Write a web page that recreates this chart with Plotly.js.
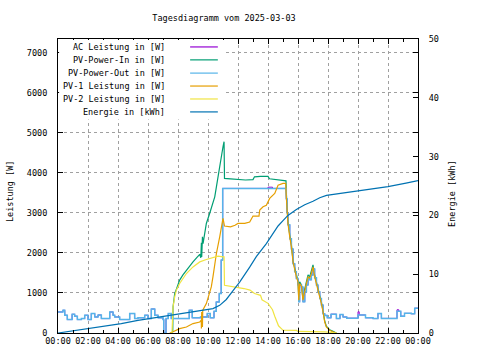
<!DOCTYPE html>
<html>
<head>
<meta charset="utf-8">
<script src="https://cdn.plot.ly/plotly-3.0.1.min.js"></script>
<style>html,body{margin:0;padding:0;background:#fff;}#chart{width:480px;height:360px;}</style>
</head>
<body>
<div id="chart"></div>
<script>
// ---- data (time in hours of the day) ----
const xTickVals = [0,2,4,6,8,10,12,14,16,18,20,22,24];
const xTickText = ["00:00","02:00","04:00","06:00","08:00","10:00","12:00","14:00","16:00","18:00","20:00","22:00","00:00"];
const seriesNames = ["AC Leistung in [W]","PV-Power-In in [W]","PV-Power-Out in [W]","PV-1 Leistung in [W]","PV-2 Leistung in [W]","Energie in [kWh]"];
const seriesColors = ["#9400d3","#009e73","#56b4e9","#e69f00","#f0e442","#0072b2"];

const outT = [0.00,0.33,0.45,0.62,0.94,1.11,1.29,1.56,1.78,2.00,2.22,2.45,2.67,2.89,3.45,3.67,3.78,4.11,4.78,5.11,5.33,5.78,6.00,6.22,6.45,6.67,7.00,7.05,7.20,7.35,7.55,8.75,8.95,9.50,9.95,10.15,10.40,10.55,10.75,10.88,10.98,
  15.20,15.22,15.27,15.33,15.45,15.56,15.67,15.78,15.89,16.00,16.05,16.11,16.23,16.33,16.45,16.56,16.67,16.78,16.89,17.00,17.11,17.23,17.33,17.45,17.56,17.67,
  17.78,17.95,18.20,18.56,18.80,19.00,19.25,20.00,20.50,21.00,21.33,21.56,22.60,22.85,23.10,23.55,23.78,24.00];
const outW = [525,568,443,335,468,420,335,360,443,335,485,400,450,360,525,443,400,335,485,360,380,443,360,600,443,380,335,0,360,485,360,568,380,400,485,380,540,775,985,1820,3610,
  3610,3350,3000,2700,2350,2100,1730,1530,1360,1200,780,1200,1150,780,1030,1200,1360,1330,1450,1600,1380,1200,1030,860,700,480,
  440,380,470,360,460,400,370,450,380,360,485,365,540,420,490,480,620,620];

const acT = [0.00,0.33,0.45,0.62,0.94,1.11,1.29,1.56,1.78,2.00,2.22,2.45,2.67,2.89,3.45,3.67,3.78,4.11,4.78,5.11,5.33,5.78,6.00,6.22,6.45,6.67,7.00,7.05,7.20,7.35,7.55,8.75,8.95,9.50,9.95,10.15,10.40,10.55,10.75,10.88,10.98,14.00,14.30,
  15.20,15.22,15.27,15.33,15.45,15.56,15.67,15.78,15.89,16.00,16.05,16.11,16.23,16.33,16.45,16.56,16.67,16.78,16.89,17.00,17.11,17.23,17.33,17.45,17.56,17.67,
  17.78,17.95,18.20,18.56,18.80,19.00,19.25,20.00,20.08,20.50,21.00,21.33,21.56,22.60,22.72,22.85,23.10,23.55,23.78,24.00];
const acW = [525,568,443,335,468,420,335,360,443,335,485,400,450,360,525,443,400,335,485,360,380,443,360,600,443,380,335,0,360,485,360,568,380,400,485,380,540,775,985,1820,3610,3640,3610,
  3610,3350,3000,2700,2350,2100,1730,1530,1360,1200,780,1200,1150,780,1030,1200,1360,1330,1450,1600,1380,1200,1030,860,700,480,
  440,380,470,360,460,400,370,530,450,380,360,485,365,580,540,420,490,480,620,620];

const inT = [7.60,7.65,7.67,7.78,7.90,8.11,8.33,8.56,8.80,9.00,9.25,9.45,9.52,9.56,9.58,9.63,9.67,9.78,9.89,10.11,10.33,10.45,10.56,10.67,10.78,10.89,11.00,11.07,11.10,11.50,12.10,12.50,13.00,13.10,13.50,14.00,14.10,14.60,15.00,15.20,
  15.22,15.27,15.33,15.45,15.56,15.67,15.78,15.89,16.00,16.05,16.11,16.23,16.33,16.45,16.56,16.67,16.78,16.89,17.00,17.11,17.23,17.33,17.45,17.56,17.67,17.78,17.89,18.11,18.33,18.56];
const inW = [0,60,650,985,1100,1320,1450,1570,1680,1775,1880,1965,1880,2250,1900,2400,2230,2550,2735,2985,3235,3400,3650,3900,4150,4485,4650,4775,3860,3850,3830,3820,3830,3900,3910,3910,3850,3830,3810,3800,
  3500,3150,2800,2450,2200,1800,1620,1450,1300,850,1280,1200,850,1100,1280,1450,1400,1530,1700,1450,1280,1100,930,770,550,300,170,80,40,0];

const pv1T = [7.45,7.60,8.11,8.56,9.00,9.45,9.55,9.56,9.58,9.63,9.65,9.89,10.11,10.22,10.33,10.45,10.56,10.78,10.89,11.00,11.10,11.50,11.80,12.00,12.45,12.78,13.00,13.40,13.45,13.67,13.89,14.11,14.45,14.67,15.00,15.18,
  15.22,15.27,15.33,15.45,15.56,15.67,15.78,15.89,16.00,16.05,16.11,16.23,16.33,16.45,16.56,16.67,16.78,16.89,17.00,17.11,17.23,17.33,17.45,17.56,17.67,17.78,17.89,18.11,18.33,18.56];
const pv1W = [0,20,110,150,235,275,318,110,525,150,568,735,985,1150,1400,1735,1985,2400,2650,2860,2670,2650,2690,2735,2735,2770,2920,2920,3070,3150,3190,3360,3485,3690,3735,3735,
  3400,3070,2735,2400,2150,1775,1570,1400,1275,820,1235,1170,820,1070,1235,1400,1370,1485,1650,1400,1235,1070,900,735,525,275,150,68,30,0];

const pv2T = [7.60,7.67,7.78,7.89,8.11,8.33,8.56,9.00,9.45,9.89,10.33,10.67,11.00,11.07,11.10,11.50,11.90,12.40,12.80,13.10,13.50,13.60,14.00,14.30,14.45,14.56,14.70,14.89,15.00,15.90,16.00,17.80,18.50,18.56];
const pv2W = [0,650,900,1070,1235,1360,1485,1650,1775,1835,1885,1920,1900,1900,1190,1170,1150,1110,1070,985,940,830,740,580,420,300,180,110,70,65,40,30,10,0];

const energyT = [0.00,0.45,1.11,2.00,3.11,4.22,5.33,6.45,7.56,8.11,9.45,10.33,10.78,11.22,11.67,12.11,12.78,13.22,13.89,14.33,14.67,15.00,15.33,15.89,16.45,17.00,17.45,17.90,18.78,20.00,21.00,22.00,23.20,24.00];
const energyKWh = [0.00,0.17,0.46,0.75,1.14,1.60,2.15,2.60,3.00,3.30,3.86,4.15,4.70,5.70,7.20,8.66,11.20,13.00,15.20,16.90,18.20,19.10,20.00,21.00,21.80,22.40,23.00,23.40,23.70,24.10,24.50,24.90,25.50,25.90];

// ---- chart ----
const FONT = "DejaVu Sans Mono, monospace";
const mk = (x, y, i, extra) => Object.assign({
  x: x, y: y, type: "scatter", mode: "lines", name: seriesNames[i],
  line: {color: seriesColors[i], width: 1.2}, showlegend: false, hoverinfo: "skip"
}, extra || {});

const traces = [
  mk(acT, acW, 0, {line: {color: seriesColors[0], width: 1, shape: "hv"}}),
  mk(inT, inW, 1),
  mk(outT, outW, 2, {line: {color: seriesColors[2], width: 1.5, shape: "hv"}}),
  mk(pv1T, pv1W, 3),
  mk(pv2T, pv2W, 4),
  mk(energyT, energyKWh, 5, {yaxis: "y2"})
];

// legend drawn gnuplot-style: text right-aligned, line sample to its right
const legendRows = [0.973, 0.929, 0.884, 0.840, 0.796, 0.752];
const shapes = [{
  type: "rect", xref: "paper", yref: "paper", x0: 0.003, x1: 0.462, y0: 0.726, y1: 0.997,
  fillcolor: "#ffffff", line: {width: 0}, layer: "above"
}];
const annotations = [];
seriesNames.forEach((nm, i) => {
  annotations.push({xref: "paper", yref: "paper", x: 0.302, y: legendRows[i], xanchor: "right", yanchor: "middle",
    text: nm, showarrow: false, font: {family: FONT, size: 8.5, color: "#000"}});
  shapes.push({type: "line", xref: "paper", yref: "paper", x0: 0.367, x1: 0.444, y0: legendRows[i], y1: legendRows[i],
    line: {color: seriesColors[i], width: 1.2}, layer: "above"});
});
annotations.push({xref: "paper", yref: "paper", x: -0.133, y: 0.48, text: "Leistung [W]", textangle: -90,
  showarrow: false, font: {family: FONT, size: 8.5, color: "#000"}, xanchor: "center", yanchor: "middle"});
annotations.push({xref: "paper", yref: "paper", x: 1.094, y: 0.476, text: "Energie [kWh]", textangle: -90,
  showarrow: false, font: {family: FONT, size: 8.5, color: "#000"}, xanchor: "center", yanchor: "middle"});

const gridStyle = {showgrid: true, gridcolor: "#a0a0a0", griddash: "3px,3px", gridwidth: 1};

const layout = {
  width: 480, height: 360,
  margin: {l: 58, r: 62, t: 39, b: 27, pad: 0},
  paper_bgcolor: "#fff", plot_bgcolor: "#fff",
  font: {family: FONT, size: 8.5, color: "#000"},
  title: {text: "Tagesdiagramm vom 2025-03-03", x: 224/480, xref: "container", xanchor: "center",
    y: 1 - 18/360, yref: "container", yanchor: "middle", font: {family: FONT, size: 8.5, color: "#000"}},
  xaxis: Object.assign({
    range: [0, 24], tickmode: "array", tickvals: xTickVals, ticktext: xTickText,
    ticks: "inside", ticklen: 5, tickcolor: "#000", showline: true, linecolor: "#000", linewidth: 1,
    mirror: "ticks", zeroline: false, fixedrange: true,
    minor: {ticks: "inside", ticklen: 3, tickcolor: "#000", dtick: 1, tick0: 0, showgrid: false},
    tickfont: {family: FONT, size: 8.5, color: "#000"}
  }, gridStyle),
  yaxis: Object.assign({
    range: [0, 7340], tickvals: [0,1000,2000,3000,4000,5000,6000,7000], tickmode: "array",
    ticks: "inside", ticklen: 5, tickcolor: "#000", showline: true, linecolor: "#000", linewidth: 1,
    mirror: "ticks", zeroline: false, ticklabelstandoff: 8,
    tickfont: {family: FONT, size: 8.5, color: "#000"}
  }, gridStyle),
  yaxis2: {
    overlaying: "y", side: "right", range: [0, 50], tickvals: [0,10,20,30,40,50], tickmode: "array",
    ticks: "inside", ticklen: 5, tickcolor: "#000", showline: true, linecolor: "#000", linewidth: 1,
    showgrid: false, zeroline: false, ticklabelstandoff: 8,
    tickfont: {family: FONT, size: 8.5, color: "#000"}
  },
  shapes: shapes,
  annotations: annotations,
  showlegend: false
};

Plotly.newPlot("chart", traces, layout, {staticPlot: true, displayModeBar: false});
</script>
</body>
</html>
